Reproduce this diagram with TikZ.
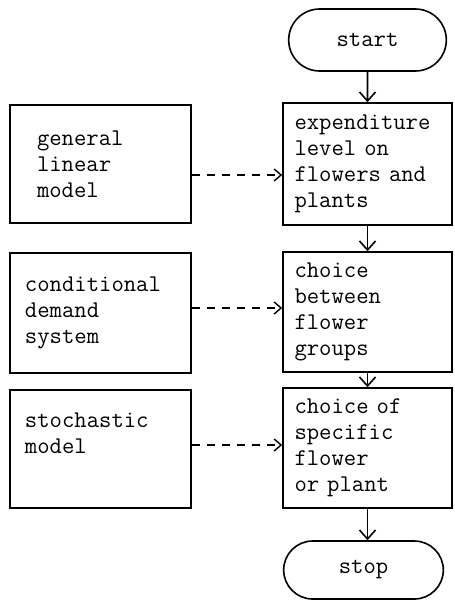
\documentclass[tikz,border=0pt]{standalone}
\usepackage{fontspec}
\usetikzlibrary{arrows.meta,shapes.misc}

\begin{document}
\begin{tikzpicture}[
  font=\ttfamily\fontsize{12}{13}\selectfont,
  stepbox/.style={draw,line width=0.8pt,minimum width=84.5pt,minimum height=60pt,text width=73pt,align=left},
  modelbox/.style={draw,line width=0.8pt,minimum width=90.5pt,minimum height=59pt,text width=75.5pt,align=left},
  terminal/.style={draw,line width=0.8pt,rounded rectangle,rounded rectangle arc length=180,minimum height=31pt},
  flow/.style={line width=0.8pt,-{Straight Barb[length=4.5pt,width=8pt]}},
  feed/.style={line width=0.7pt,dash pattern=on 4pt off 3.5pt,-{Straight Barb[length=3.5pt,width=6pt]}}]
\useasboundingbox (0,0) rectangle (227.5pt,-300pt);

% right column
\node[terminal,minimum width=85.5pt] (start) at (183.75pt,-20pt) {start};
\node[stepbox,minimum height=61pt] (expend) at (183.75pt,-82pt) {expenditure\\level on\\flowers and\\plants};
\node[stepbox] (groups) at (183.75pt,-156pt) {choice\\between\\flower\\groups};
\node[stepbox] (specific) at (183.75pt,-224pt) {choice of\\specific\\flower\\or plant};
\node[terminal,minimum width=86.5pt,minimum height=29pt] (stop) at (181.75pt,-285pt) {stop};

% left column
\node[modelbox,text width=63.5pt] (genlin) at (50.25pt,-82pt) {general\\linear\\model};
\node[modelbox,minimum height=60pt] (conddem) at (50.25pt,-156.5pt) {conditional\\demand\\system};
\node[modelbox,text depth=29pt] (stoch) at (50.25pt,-224.5pt) {stochastic\\model};

\draw[flow] (start) -- (expend);
\draw[flow] (expend) -- (groups);
\draw[flow] (groups) -- (specific);
\draw[flow] (specific.south) -- (specific.south |- stop.north);

\draw[feed] ([yshift=-5.5pt]genlin.east) -- ([yshift=-5.5pt]expend.west);
\draw[feed] ([yshift=2.5pt]conddem.east) -- ([yshift=2pt]groups.west);
\draw[feed] ([yshift=2pt]stoch.east) -- ([yshift=1.5pt]specific.west);
\end{tikzpicture}
\end{document}
